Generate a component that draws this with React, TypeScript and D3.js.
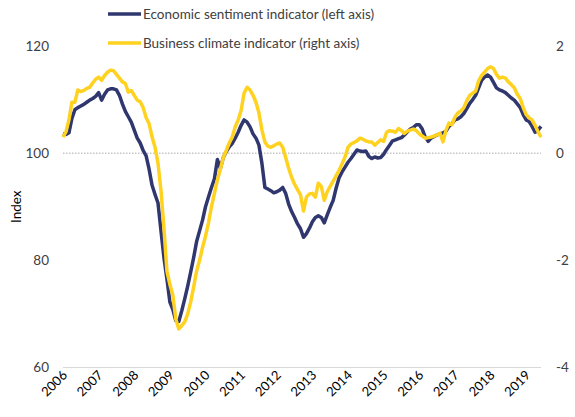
import React, { useEffect, useRef } from "react";
import * as d3 from "d3";

// monthly values, Jan 2006 .. Jun 2019
const sentiment = [
  103.7, 103.5, 103.8, 106.5, 108.1, 108.5, 108.8, 109.1, 109.5, 109.9, 110.2, 110.6,
  111.3, 109.9, 111.0, 111.8, 112.0, 112.0, 111.8, 110.8, 109.2, 107.8, 106.8, 105.8,
  104.3, 102.8, 101.9, 100.5, 99.5, 97.0, 94.0, 92.3, 90.7, 85.5, 80.5, 76.5,
  72.2, 70.8, 68.7, 68.6, 70.6, 72.8, 75.2, 77.8, 80.5, 83.5, 85.5, 87.5,
  90.0, 91.8, 93.6, 95.2, 98.8, 97.2, 99.2, 100.3, 101.2, 101.8, 102.8, 103.9,
  105.2, 106.2, 105.8, 104.9, 103.6, 102.8, 101.5, 98.1, 93.6, 93.3, 93.0, 92.6,
  92.8, 93.1, 93.6, 92.5, 90.5, 89.1, 88.0, 86.8, 85.9, 84.3, 85.0, 86.0,
  87.2, 88.0, 88.3, 88.0, 87.0, 88.5, 89.9, 91.2, 93.5, 95.4, 96.5, 97.4,
  98.3, 99.0, 99.8, 100.6, 100.4, 100.3, 100.4, 99.4, 99.0, 99.3, 99.1, 99.2,
  99.8, 100.7, 101.5, 102.3, 102.5, 102.7, 102.9, 103.4, 104.0, 104.5, 104.8, 105.3,
  105.3, 104.5, 103.0, 102.2, 102.8, 103.1, 103.4, 103.6, 103.8, 104.1, 105.0, 105.5,
  106.2, 106.4, 106.8, 107.4, 108.3, 109.3, 110.0, 110.8, 112.2, 113.6, 114.2, 114.6,
  114.2, 113.2, 112.2, 111.8, 111.6, 111.3, 110.8, 110.3, 109.9, 109.2, 108.5, 107.2,
  106.2, 105.9, 105.0, 103.9, 104.3, 105.0
];

const climate = [
  0.30, 0.40, 0.62, 0.95, 0.95, 1.18, 1.15, 1.17, 1.21, 1.23, 1.31, 1.38,
  1.42, 1.36, 1.45, 1.51, 1.55, 1.54, 1.47, 1.40, 1.33, 1.30, 1.14, 1.17,
  1.08, 0.99, 0.96, 0.85, 0.66, 0.55, 0.30, 0.11, -0.19, -0.70, -1.40, -2.20,
  -2.45, -2.65, -3.10, -3.28, -3.22, -3.15, -3.00, -2.78, -2.50, -2.20, -2.00, -1.76,
  -1.55, -1.30, -1.00, -0.75, -0.50, -0.30, -0.08, 0.05, 0.19, 0.30, 0.49, 0.62,
  0.80, 1.12, 1.23, 1.18, 1.08, 0.95, 0.75, 0.43, 0.21, 0.13, 0.11, 0.14,
  0.17, 0.19, 0.11, -0.08, -0.28, -0.45, -0.58, -0.68, -0.78, -1.08, -0.82, -0.76,
  -0.75, -0.82, -0.56, -0.62, -0.88, -0.72, -0.62, -0.52, -0.42, -0.32, -0.20, -0.07,
  0.11, 0.17, 0.20, 0.23, 0.28, 0.26, 0.23, 0.21, 0.21, 0.15, 0.20, 0.25,
  0.22, 0.39, 0.42, 0.41, 0.39, 0.46, 0.42, 0.37, 0.41, 0.43, 0.45, 0.42,
  0.36, 0.32, 0.28, 0.29, 0.30, 0.32, 0.34, 0.37, 0.21, 0.43, 0.56, 0.53,
  0.67, 0.75, 0.79, 0.85, 0.98, 1.08, 1.12, 1.16, 1.35, 1.45, 1.51, 1.58,
  1.61, 1.58, 1.47, 1.40, 1.42, 1.40, 1.33, 1.28, 1.22, 1.10, 1.02, 0.85,
  0.72, 0.66, 0.62, 0.52, 0.40, 0.30
];

const years = ["2006", "2007", "2008", "2009", "2010", "2011", "2012", "2013", "2014", "2015", "2016", "2017", "2018", "2019"];
const leftTicks = [60, 80, 100, 120];
const rightTicks = [-4, -2, 0, 2];
const seriesNames = ["Economic sentiment indicator (left axis)", "Business climate indicator (right axis)"];

const BLUE = "#30376f";
const YELLOW = "#ffd21f";
const FONT = "Lato, 'Open Sans', sans-serif";

export default function App() {
  const ref = useRef<SVGSVGElement>(null);

  useEffect(() => {
    const svg = d3.select(ref.current);
    svg.selectAll("*").remove();

    const x = d3.scaleLinear().domain([0, sentiment.length - 1]).range([63, 541]);
    const yL = d3.scaleLinear().domain([60, 120]).range([367.5, 46]);
    const yR = d3.scaleLinear().domain([-4, 2]).range([367.5, 46]);

    // 100 / zero reference line
    svg.append("line")
      .attr("x1", 63).attr("x2", 541)
      .attr("y1", yL(100)).attr("y2", yL(100))
      .attr("stroke", "#8c8c8c").attr("stroke-width", 0.75)
      .attr("stroke-dasharray", "1.5,1.5");

    // bottom axis line
    svg.append("line")
      .attr("x1", 63).attr("x2", 541)
      .attr("y1", yL(60)).attr("y2", yL(60))
      .attr("stroke", "#d9d9d9").attr("stroke-width", 1.2);

    svg.selectAll(".lt").data(leftTicks).join("text")
      .attr("class", "lt")
      .attr("x", 49).attr("y", d => yL(d))
      .attr("dy", "0.35em")
      .attr("text-anchor", "end")
      .style("font-family", FONT).style("font-size", "13.5px").attr("fill", "#404040")
      .text(d => d);

    svg.selectAll(".rt").data(rightTicks).join("text")
      .attr("class", "rt")
      .attr("x", 556).attr("y", d => yR(d))
      .attr("dy", "0.35em")
      .attr("text-anchor", "start")
      .style("font-family", FONT).style("font-size", "13.5px").attr("fill", "#404040")
      .text(d => d);

    svg.selectAll(".yr").data(years).join("text")
      .attr("class", "yr")
      .attr("transform", (d, i) => `translate(${x(i * 12) + 5},${376}) rotate(-45)`)
      .attr("text-anchor", "end")
      .style("font-family", FONT).style("font-size", "13px").attr("fill", "#000")
      .text(d => d);

    svg.append("text")
      .attr("transform", `translate(21,${yL(90)}) rotate(-90)`)
      .attr("text-anchor", "middle")
      .style("font-family", FONT).style("font-size", "13.5px").attr("fill", "#000")
      .text("Index");

    const lineL = d3.line<number>().x((d, i) => x(i)).y(d => yL(d));
    const lineR = d3.line<number>().x((d, i) => x(i)).y(d => yR(d));

    svg.append("path").datum(sentiment)
      .attr("d", lineL).attr("fill", "none")
      .attr("stroke", BLUE).attr("stroke-width", 3.5).attr("stroke-linejoin", "round");

    svg.append("path").datum(climate)
      .attr("d", lineR).attr("fill", "none")
      .attr("stroke", YELLOW).attr("stroke-width", 3.5).attr("stroke-linejoin", "round");

    // legend
    const legend = svg.append("g");
    [BLUE, YELLOW].forEach((c, i) => {
      const ly = 14 + i * 29;
      legend.append("line")
        .attr("x1", 108).attr("x2", 141).attr("y1", ly).attr("y2", ly)
        .attr("stroke", c).attr("stroke-width", 3.5);
      legend.append("text")
        .attr("x", 143).attr("y", ly).attr("dy", "0.35em")
        .style("font-family", FONT).style("font-size", "13.5px").attr("fill", "#404040")
        .text(seriesNames[i]);
    });
  }, []);

  return (
    <svg ref={ref} width={575} height={417}
      style={{ position: "absolute", left: 0, top: 0, background: "#fff" }} />
  );
}
